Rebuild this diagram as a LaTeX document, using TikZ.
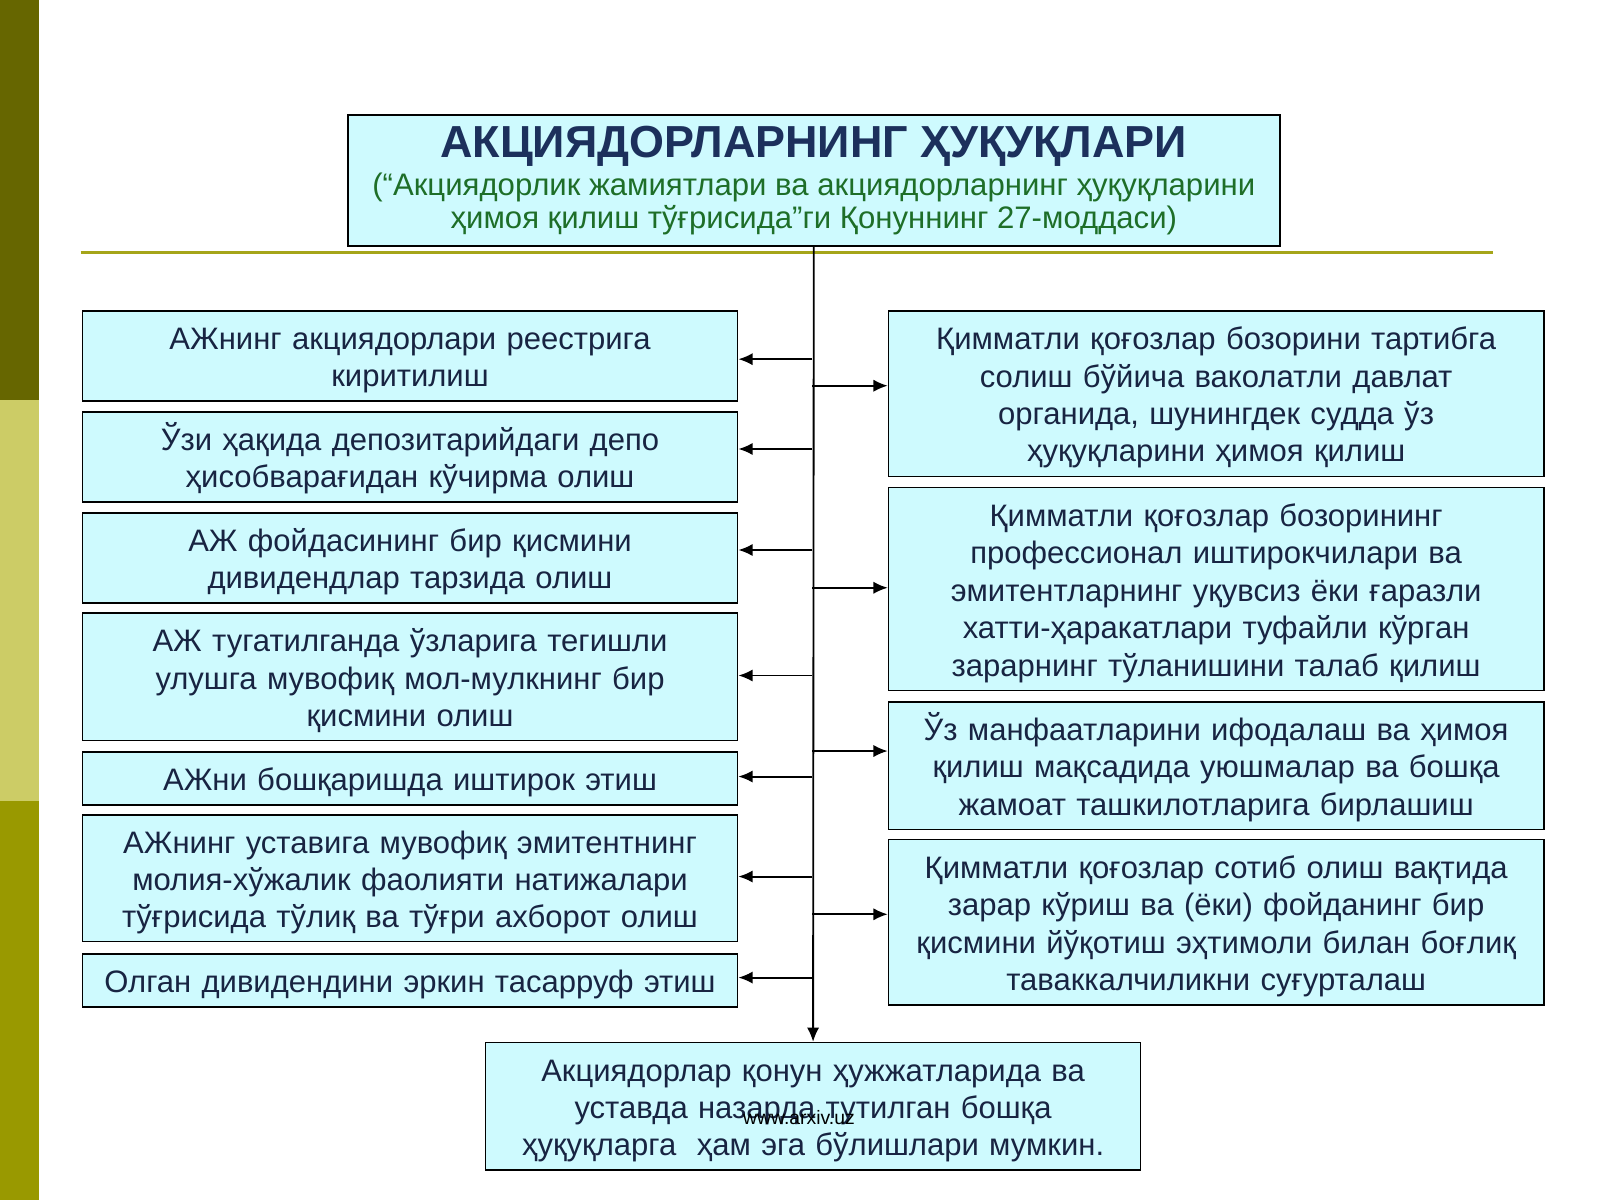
\documentclass[tikz,border=0pt]{standalone}
\usepackage{fontspec}
\setmainfont{Liberation Sans}
\usetikzlibrary{arrows.meta}
\definecolor{barA}{RGB}{102,102,0}
\definecolor{barB}{RGB}{204,204,102}
\definecolor{barC}{RGB}{153,153,0}
\definecolor{rulecol}{RGB}{165,165,25}
\definecolor{boxfill}{RGB}{206,250,254}
\definecolor{txtnavy}{RGB}{24,36,66}
\definecolor{titlenavy}{RGB}{28,48,92}
\definecolor{subgreen}{RGB}{30,110,40}
\newcommand\myBody{\fontsize{30.4}{36.7}\selectfont}
\tikzset{
  sbox/.style={rectangle, draw=black, line width=1.6pt, fill=boxfill, anchor=north west,
    minimum width=642, inner sep=0pt, align=center, text width=636, text=txtnavy, font=\myBody,
    execute at begin node={\rule{0pt}{30pt}}},
  arr/.style={line width=1.9pt, -{Latex[length=14pt,width=12pt]}},
}
\begin{document}
\begin{tikzpicture}[x=1pt,y=-1pt]
\useasboundingbox (0,0) rectangle (1568,1176);
\fill[white] (0,0) rectangle (1568,1176);
% side bar
\fill[barA] (0,0) rectangle (38,392);
\fill[barB] (0,392) rectangle (38,785);
\fill[barC] (0,785) rectangle (38,1176);
% rule
\draw[rulecol, line width=3pt] (79,247) -- (1463,247);
% title
\node[rectangle, draw=black, line width=2pt, fill=boxfill, anchor=north west,
  minimum width=913, minimum height=128, inner sep=0pt, align=center, text=subgreen,
  font=\fontsize{30.5}{32}\selectfont] (title) at (340,112)
  {\fontsize{44}{32}\selectfont\bfseries\color{titlenavy}АКЦИЯДОРЛАРНИНГ ҲУҚУҚЛАРИ\\[5pt]
   (“Акциядорлик жамиятлари ва акциядорларнинг ҳуқуқларини\\
   ҳимоя қилиш тўғрисида”ги Қонуннинг 27-моддаси)};
% left boxes
\node[sbox, minimum height=88] (l1) at (80,304) {АЖнинг акциядорлари реестрига\\киритилиш};
\node[sbox, minimum height=88] (l2) at (80,403) {Ўзи ҳақида депозитарийдаги депо\\ҳисобварағидан кўчирма олиш};
\node[sbox, minimum height=88] (l3) at (80,502) {АЖ фойдасининг бир қисмини\\дивидендлар тарзида олиш};
\node[sbox, minimum height=125] (l4) at (80,600) {АЖ тугатилганда ўзларига тегишли\\улушга мувофиқ мол-мулкнинг бир\\қисмини олиш};
\node[sbox, minimum height=52] (l5) at (80,736) {АЖни бошқаришда иштирок этиш};
\node[sbox, minimum height=124] (l6) at (80,798) {АЖнинг уставига мувофиқ эмитентнинг\\молия-хўжалик фаолияти натижалари\\тўғрисида тўлиқ ва тўғри ахборот олиш};
\node[sbox, minimum height=52] (l7) at (80,934) {Олган дивидендини эркин тасарруф этиш};
% right boxes
\node[sbox, minimum height=162] (r1) at (870,304) {Қимматли қоғозлар бозорини тартибга\\солиш бўйича ваколатли давлат\\органида, шунингдек судда ўз\\ҳуқуқларини ҳимоя қилиш};
\node[sbox, minimum height=199] (r2) at (870,477) {Қимматли қоғозлар бозорининг\\профессионал иштирокчилари ва\\эмитентларнинг уқувсиз ёки ғаразли\\хатти-ҳаракатлари туфайли кўрган\\зарарнинг тўланишини талаб қилиш};
\node[sbox, minimum height=125] (r3) at (870,687) {Ўз манфаатларини ифодалаш ва ҳимоя\\қилиш мақсадида уюшмалар ва бошқа\\жамоат ташкилотларига бирлашиш};
\node[sbox, minimum height=162] (r4) at (870,822) {Қимматли қоғозлар сотиб олиш вақтида\\зарар кўриш ва (ёки) фойданинг бир\\қисмини йўқотиш эҳтимоли билан боғлиқ\\таваккалчиликни суғурталаш};
% bottom box
\node[sbox, minimum height=125] (bot) at (475,1021) {Акциядорлар қонун ҳужжатларида ва\\уставда назарда тутилган бошқа\\ҳуқуқларга\ \ ҳам эга бўлишлари мумкин.};
% watermark
\node[font=\fontsize{19}{22}\selectfont, text=black, inner sep=0pt] (wm) at (783,1095) {www.arxiv.uz};
% trunk
\draw[line width=1.8pt, -{Latex[length=14pt,width=12pt]}] (title.south) -- (bot.north);
% connectors
\foreach \n/\y in {l1/352, l2/440, l3/539, l4/662, l5/761, l6/859, l7/958} {
  \coordinate (t\n) at (796,\y);
  \draw[arr] (t\n) -- (t\n -| \n.east);
}
\foreach \n/\y in {r1/378, r2/576, r3/736, r4/896} {
  \coordinate (t\n) at (796,\y);
  \draw[arr] (t\n) -- (t\n -| \n.west);
}
\end{tikzpicture}
\end{document}
